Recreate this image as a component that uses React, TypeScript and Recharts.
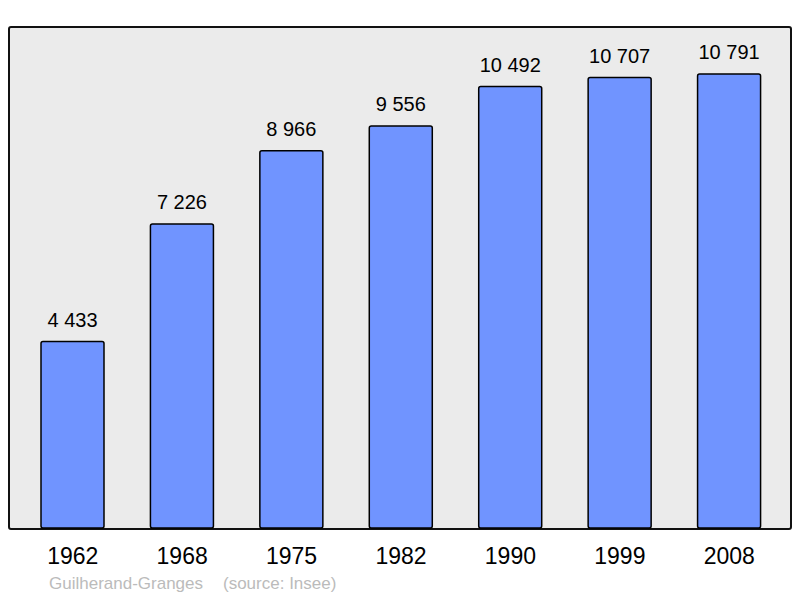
import { BarChart, Bar, XAxis, YAxis, LabelList } from "recharts";

const years = ["1962", "1968", "1975", "1982", "1990", "1999", "2008"];
const population = [4433, 7226, 8966, 9556, 10492, 10707, 10791];
const town = "Guilherand-Granges";
const source = "(source: Insee)";

const data = years.map((year, i) => ({ year, population: population[i] }));

// non-breaking space so the label is not wrapped to the bar width
const fmt = (v: unknown) =>
  String(v).replace(/\B(?=(\d{3})+(?!\d))/g, "\u00a0");

const FONT = '"Liberation Sans", Arial, sans-serif';

export default function App() {
  return (
    <div
      style={{
        position: "absolute",
        left: 0,
        top: 0,
        width: 800,
        height: 598,
        background: "#fff",
        fontFamily: FONT,
      }}
    >
      <div
        style={{
          position: "absolute",
          left: 8,
          top: 26,
          width: 780,
          height: 500,
          background: "#ebebeb",
          border: "2px solid #111",
          borderRadius: 3,
        }}
      />
      <div style={{ position: "absolute", left: 0, top: 0 }}>
        <BarChart
          width={800}
          height={598}
          data={data}
          margin={{ top: 27, right: 16, bottom: 40, left: 18 }}
        >
          <XAxis
            dataKey="year"
            axisLine={false}
            tickLine={false}
            height={30}
            tickMargin={14}
            tick={{ fontSize: 23, fill: "#000", fontFamily: FONT }}
            interval={0}
          />
          <YAxis hide domain={[0, 11909]} />
          <Bar
            dataKey="population"
            fill="#7094ff"
            stroke="#000"
            strokeWidth={1.5}
            radius={2}
            barSize={63}
            isAnimationActive={false}
          >
            <LabelList
              dataKey="population"
              position="top"
              offset={15}
              formatter={fmt}
              style={{ fontSize: 20, fill: "#000", fontFamily: FONT }}
            />
          </Bar>
        </BarChart>
      </div>
      <div
        style={{
          position: "absolute",
          left: 49,
          top: 574,
          fontSize: 17,
          color: "#bbb",
          whiteSpace: "pre",
        }}
      >
        {town}
      </div>
      <div
        style={{
          position: "absolute",
          left: 223,
          top: 574,
          fontSize: 17,
          color: "#bbb",
          whiteSpace: "pre",
        }}
      >
        {source}
      </div>
    </div>
  );
}
